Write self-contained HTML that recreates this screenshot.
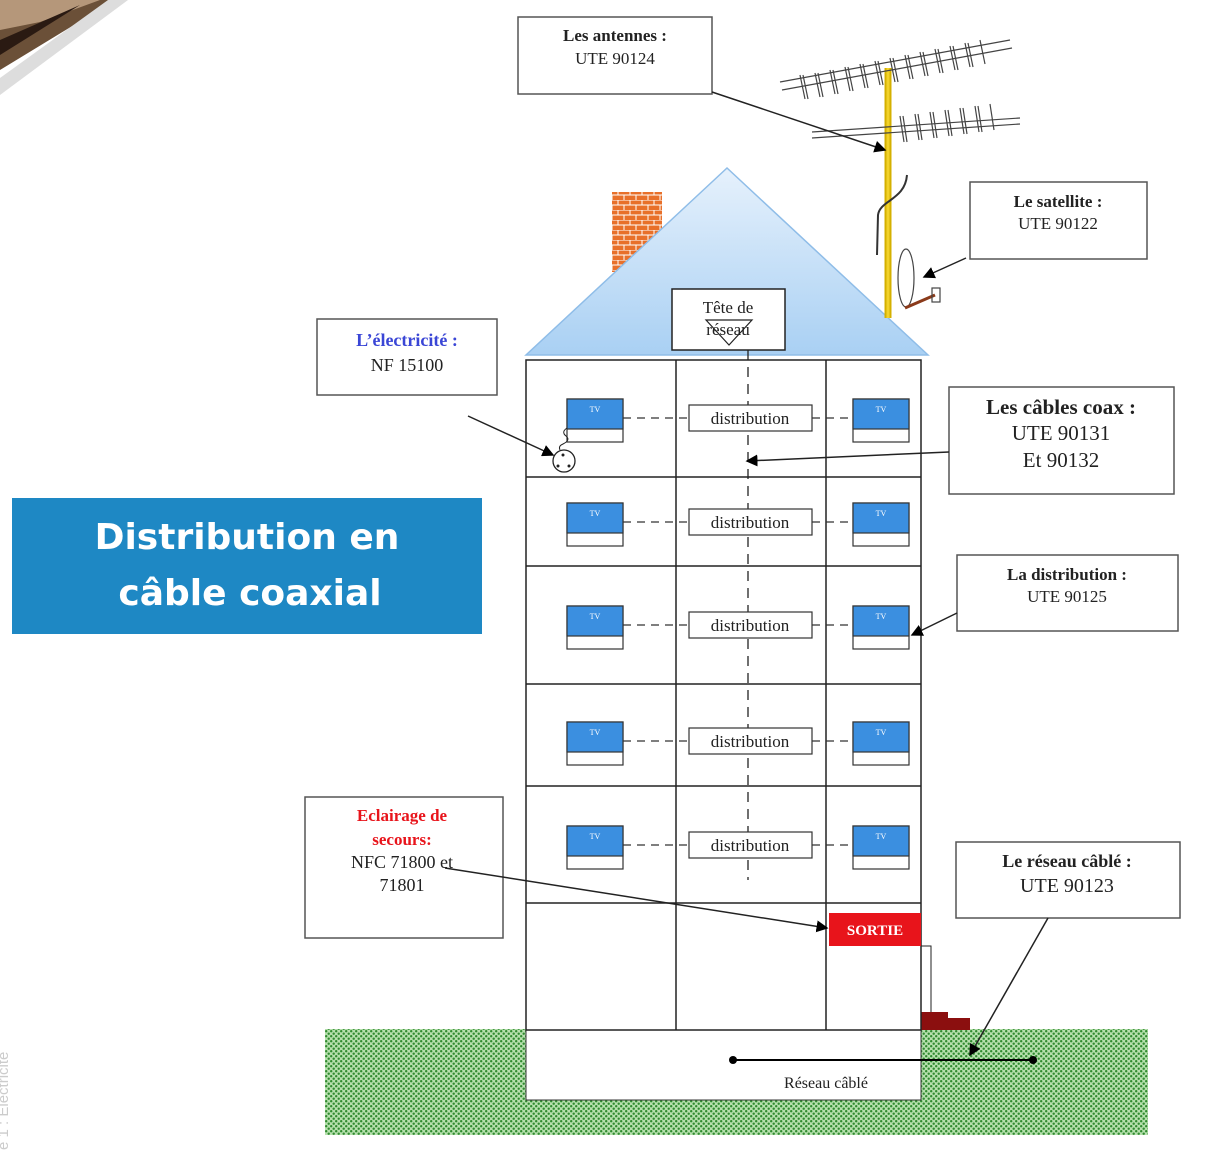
<!DOCTYPE html>
<html><head><meta charset="utf-8">
<style>
html,body{margin:0;padding:0;background:#fff;width:1214px;height:1154px;overflow:hidden}
svg{display:block}
.ser{font-family:"Liberation Serif",serif}
</style></head>
<body>
<svg id="d" width="1214" height="1154" viewBox="0 0 1214 1154" xmlns="http://www.w3.org/2000/svg">
<defs>
<linearGradient id="roofg" x1="0" y1="0" x2="0" y2="1">
<stop offset="0" stop-color="#e6f1fc"/><stop offset="1" stop-color="#a9d0f3"/>
</linearGradient>
<pattern id="grass" width="5" height="5" patternUnits="userSpaceOnUse">
<rect width="5" height="5" fill="#b6e0ad"/>
<circle cx="1.2" cy="1.2" r="1.2" fill="#2f8a2f"/>
<circle cx="3.7" cy="3.7" r="1.2" fill="#2f8a2f"/>
</pattern>
<pattern id="brick" width="12" height="10" patternUnits="userSpaceOnUse">
<rect width="12" height="10" fill="#e8702a"/>
<path d="M0 0H12M0 5H12M6 0V5M0 5V10M12 5V10" stroke="#fff" stroke-width="1"/>
</pattern>
<marker id="ar" markerWidth="8" markerHeight="8" refX="7" refY="4" orient="auto"><path d="M0,0 L8,4 L0,8z" fill="#000"/></marker>
</defs>

<!-- corner image -->
<g>
<polygon points="0,0 115,0 0,70" fill="#6b5038"/>
<polygon points="0,0 100,0 40,22 0,30" fill="#b5977a"/>
<polygon points="0,40 80,5 0,55" fill="#2a1a12"/>
<polygon points="108,0 128,0 0,95 0,78" fill="#ddd"/>
</g>
<text x="8" y="1150" transform="rotate(-90 8 1150)" font-family="Liberation Sans,sans-serif" font-size="15" fill="#ccc">e 1 : Électricité</text>

<!-- ground -->
<rect x="325" y="1029" width="823" height="106" fill="url(#grass)"/>
<rect x="526" y="1030" width="395" height="70" fill="#fff" stroke="#333" stroke-width="1"/>
<line x1="733" y1="1060" x2="1033" y2="1060" stroke="#000" stroke-width="2"/>
<circle cx="733" cy="1060" r="4" fill="#000"/><circle cx="1033" cy="1060" r="4" fill="#000"/>
<text x="826" y="1088" text-anchor="middle" class="ser" font-size="16" fill="#222">Réseau câblé</text>
<path d="M921 1012H948V1018H970V1030H921z" fill="#8b0f0f"/>

<!-- chimney + roof -->
<rect x="612" y="192" width="50" height="80" fill="url(#brick)"/>
<polygon points="727,168 526,355 928,355" fill="url(#roofg)" stroke="#8fbde8" stroke-width="1.5"/>

<!-- antenna -->
<g stroke="#444" stroke-width="1.2" fill="none">
<line x1="888" y1="68" x2="888" y2="318" stroke="#d4b000" stroke-width="7"/>
<line x1="888" y1="68" x2="888" y2="318" stroke="#f2d22a" stroke-width="3"/>
<path d="M780 82 L1010 40"/><path d="M782 90 L1012 48"/>
<path d="M812 132 L1020 118"/><path d="M812 138 L1020 124"/>
<path d="M800 75 l5 24 M815 73 l5 24 M830 70 l5 24 M845 67 l5 24 M860 64 l5 24 M875 61 l5 24 M890 58 l5 24 M905 55 l5 24 M920 52 l5 24 M935 49 l5 24 M950 46 l5 24 M965 43 l5 24 M980 40 l5 24"/>
<path d="M803 75 l5 24 M818 73 l5 24 M833 70 l5 24 M848 67 l5 24 M863 64 l5 24 M878 61 l5 24 M893 58 l5 24 M908 55 l5 24 M923 52 l5 24 M938 49 l5 24 M953 46 l5 24 M968 43 l5 24"/>
<path d="M900 116 l4 26 M915 114 l4 26 M930 112 l4 26 M945 110 l4 26 M960 108 l4 26 M975 106 l4 26 M990 104 l4 26"/>
<path d="M903 116 l4 26 M918 114 l4 26 M933 112 l4 26 M948 110 l4 26 M963 108 l4 26 M978 106 l4 26"/>
<path d="M907 175 C905 200 880 200 878 215 L877 255" stroke="#333" stroke-width="2"/>
<ellipse cx="906" cy="278" rx="8" ry="29"/>
<line x1="905" y1="308" x2="935" y2="295" stroke="#8a3a1a" stroke-width="3"/>
<rect x="932" y="288" width="8" height="14"/>
</g>

<!-- building -->
<g stroke="#222" stroke-width="1.5" fill="none">
<rect x="526" y="360" width="395" height="670" fill="#fff"/>
<line x1="676" y1="360" x2="676" y2="1030"/><line x1="826" y1="360" x2="826" y2="1030"/>
<line x1="526" y1="477" x2="921" y2="477"/><line x1="526" y1="566" x2="921" y2="566"/>
<line x1="526" y1="684" x2="921" y2="684"/><line x1="526" y1="786" x2="921" y2="786"/>
<line x1="526" y1="903" x2="921" y2="903"/>
<line x1="748" y1="350" x2="748" y2="880" stroke-dasharray="10,7" stroke-width="1.3"/>
</g>
<g id="floors"></g>

<!-- head end -->
<rect x="672" y="289" width="113" height="61" fill="#fff" stroke="#222" stroke-width="1.5"/>
<polygon points="706,320 752,320 729,345" fill="none" stroke="#222" stroke-width="1.2"/>
<text x="728" y="313" text-anchor="middle" class="ser" font-size="17" fill="#222">Tête de</text>
<text x="728" y="335" text-anchor="middle" class="ser" font-size="17" fill="#222">réseau</text>

<!-- outlet -->
<circle cx="564" cy="461" r="11" fill="#fff" stroke="#222" stroke-width="1.3"/>
<circle cx="563" cy="455" r="1.5" fill="#222"/><circle cx="558" cy="466" r="1.5" fill="#222"/><circle cx="569" cy="466" r="1.5" fill="#222"/>
<path d="M567 428 q-6 4 -1 8 q5 4 -3 8 q-5 2 -3 6" stroke="#222" fill="none"/>

<!-- SORTIE -->
<rect x="829" y="913" width="92" height="33" fill="#e8141b"/>
<text x="875" y="935" text-anchor="middle" class="ser" font-weight="bold" font-size="15" fill="#fff">SORTIE</text>
<path d="M921 946H931V1012" stroke="#222" fill="none"/>

<!-- title -->
<rect x="12" y="498" width="470" height="136" fill="#1e88c4"/>
<text x="247" y="549" text-anchor="middle" font-family="DejaVu Sans,Liberation Sans,sans-serif" font-weight="bold" font-size="36" fill="#fff">Distribution en</text>
<text x="250" y="605" text-anchor="middle" font-family="DejaVu Sans,Liberation Sans,sans-serif" font-weight="bold" font-size="36" fill="#fff">câble coaxial</text>

<!-- callouts -->
<g class="ser" fill="#222" stroke-width="1.5">
<g>
<rect x="518" y="17" width="194" height="77" fill="#fff" stroke="#555"/>
<text x="615" y="41" text-anchor="middle" font-weight="bold" font-size="17">Les antennes :</text>
<text x="615" y="64" text-anchor="middle" font-size="17">UTE 90124</text>
</g>
<line x1="712" y1="92" x2="885" y2="150" stroke="#222" stroke-width="1.5" marker-end="url(#ar)"/>
<g>
<rect x="970" y="182" width="177" height="77" fill="#fff" stroke="#555"/>
<text x="1058" y="207" text-anchor="middle" font-weight="bold" font-size="17">Le satellite :</text>
<text x="1058" y="229" text-anchor="middle" font-size="17">UTE 90122</text>
</g>
<line x1="966" y1="258" x2="924" y2="277" stroke="#222" stroke-width="1.5" marker-end="url(#ar)"/>
<g>
<rect x="317" y="319" width="180" height="76" fill="#fff" stroke="#555"/>
<text x="407" y="346" text-anchor="middle" font-weight="bold" font-size="18" fill="#3a46d6">L’électricité :</text>
<text x="407" y="371" text-anchor="middle" font-size="18">NF 15100</text>
</g>
<line x1="468" y1="416" x2="553" y2="455" stroke="#222" stroke-width="1.5" marker-end="url(#ar)"/>
<g>
<rect x="949" y="387" width="225" height="107" fill="#fff" stroke="#555"/>
<text x="1061" y="414" text-anchor="middle" font-weight="bold" font-size="21">Les câbles coax :</text>
<text x="1061" y="440" text-anchor="middle" font-size="21">UTE 90131</text>
<text x="1061" y="467" text-anchor="middle" font-size="21">Et 90132</text>
</g>
<line x1="949" y1="452" x2="747" y2="461" stroke="#222" stroke-width="1.5" marker-end="url(#ar)"/>
<g>
<rect x="957" y="555" width="221" height="76" fill="#fff" stroke="#555"/>
<text x="1067" y="580" text-anchor="middle" font-weight="bold" font-size="17">La distribution :</text>
<text x="1067" y="602" text-anchor="middle" font-size="17">UTE 90125</text>
</g>
<line x1="957" y1="613" x2="912" y2="635" stroke="#222" stroke-width="1.5" marker-end="url(#ar)"/>
<g>
<rect x="305" y="797" width="198" height="141" fill="#fff" stroke="#555"/>
<text x="402" y="821" text-anchor="middle" font-weight="bold" font-size="17" fill="#e8141b">Eclairage de</text>
<text x="402" y="845" text-anchor="middle" font-weight="bold" font-size="17" fill="#e8141b">secours:</text>
<text x="402" y="868" text-anchor="middle" font-size="18">NFC 71800 et</text>
<text x="402" y="891" text-anchor="middle" font-size="18">71801</text>
</g>
<line x1="445" y1="868" x2="827" y2="928" stroke="#222" stroke-width="1.5" marker-end="url(#ar)"/>
<g>
<rect x="956" y="842" width="224" height="76" fill="#fff" stroke="#555"/>
<text x="1067" y="867" text-anchor="middle" font-weight="bold" font-size="18">Le réseau câblé :</text>
<text x="1067" y="892" text-anchor="middle" font-size="20">UTE 90123</text>
</g>
<line x1="1048" y1="918" x2="970" y2="1055" stroke="#222" stroke-width="1.5" marker-end="url(#ar)"/>
</g>
</svg>
<script>
const rowTops = [399, 503, 606, 722, 826];
const NS = "http://www.w3.org/2000/svg";
const g = document.getElementById("floors");
function mk(tag, attrs){const e=document.createElementNS(NS,tag);for(const k in attrs)e.setAttribute(k,attrs[k]);g.appendChild(e);return e;}
rowTops.forEach(function(t){
  [567, 853].forEach(function(x){
    const b = mk("rect",{x:x,y:t,width:56,height:43,fill:"#fff",stroke:"#333","stroke-width":1.2});
    
    
    mk("rect",{x:x,y:t,width:56,height:30,fill:"#3b8fe0",stroke:"#333","stroke-width":1.2});
    const tx = mk("text",{x:x+28,y:t+13,"text-anchor":"middle","font-family":"Liberation Serif,serif","font-size":8,fill:"#fff"});
    tx.textContent = "TV";
  });
  const cy = t + 19;
  mk("line",{x1:623,y1:cy,x2:689,y2:cy,stroke:"#333","stroke-dasharray":"8,6","stroke-width":1.3});
  mk("line",{x1:812,y1:cy,x2:853,y2:cy,stroke:"#333","stroke-dasharray":"8,6","stroke-width":1.3});
  const d = mk("rect",{x:689,y:t+6,width:123,height:26,fill:"#fff",stroke:"#333","stroke-width":1.2});
  
  
  const dt = mk("text",{x:750,y:t+25,"text-anchor":"middle","font-family":"Liberation Serif,serif","font-size":17,fill:"#222"});
  dt.textContent = "distribution";
});
</script>
</body></html>
